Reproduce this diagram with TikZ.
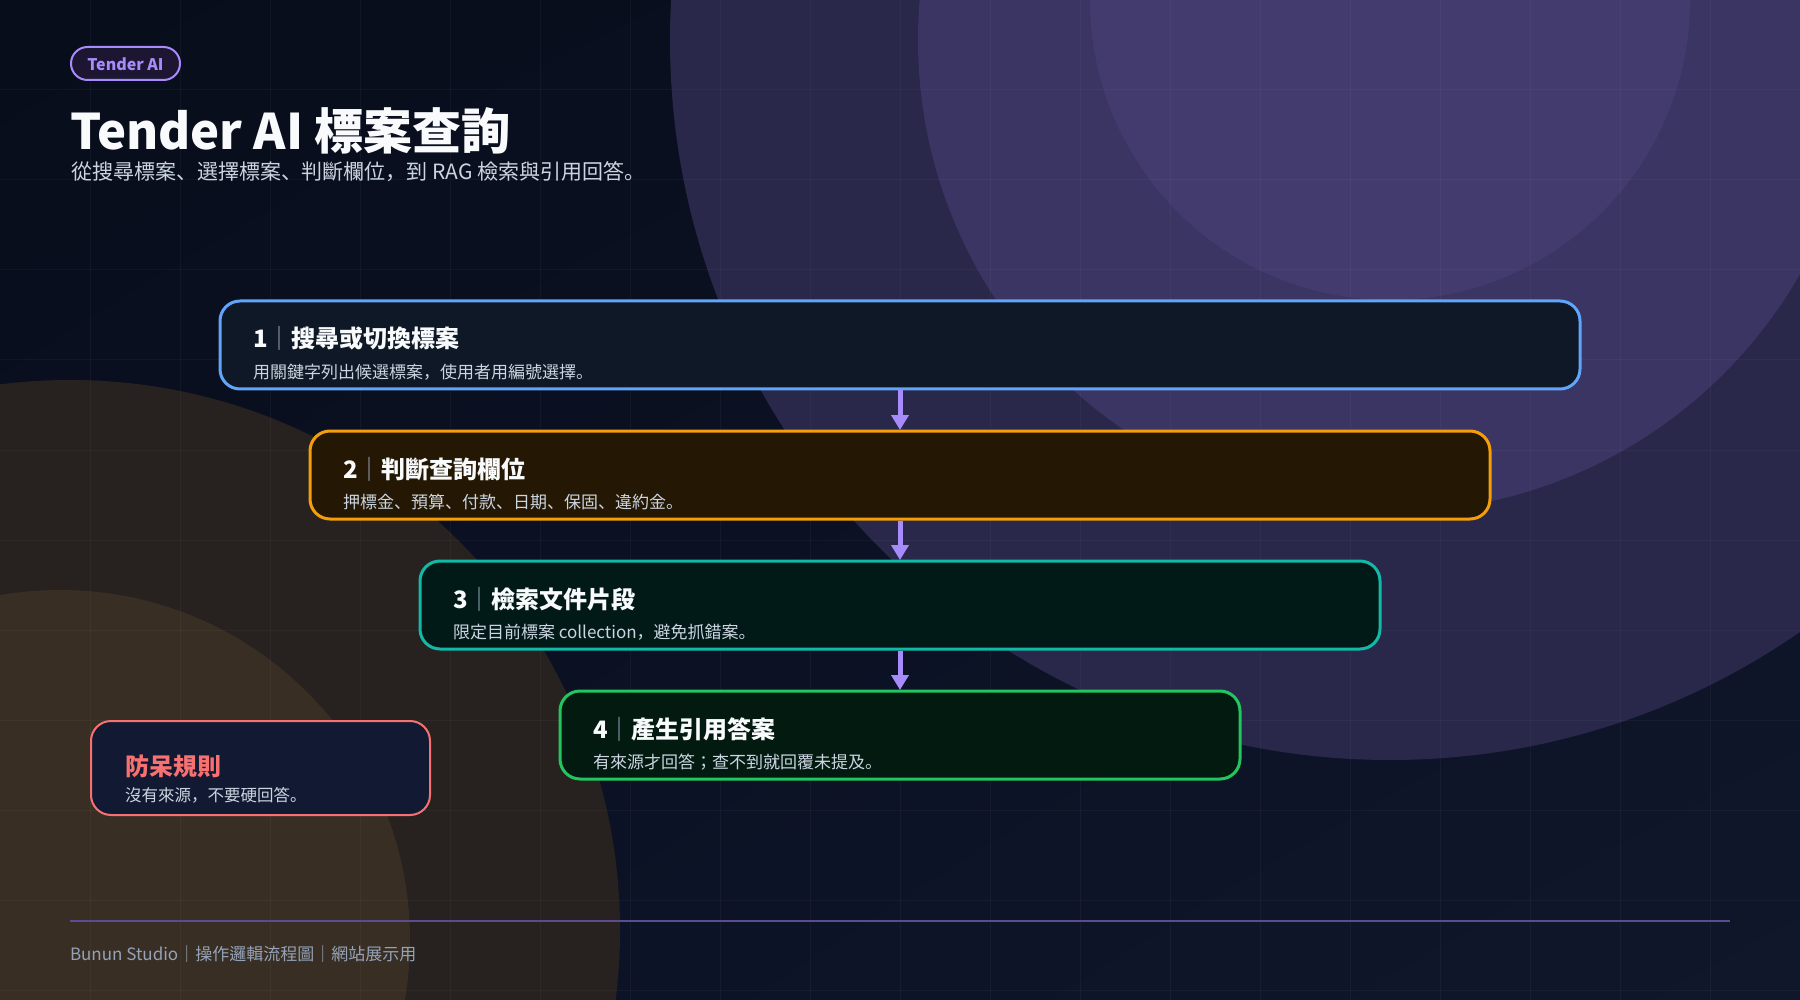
\documentclass[tikz,border=0pt]{standalone}
\usepackage{fontspec}
\setmainfont{Noto Sans CJK JP}
\usetikzlibrary{arrows.meta,shadings}
\definecolor{bgTL}{HTML}{080D1B}
\definecolor{bgTR}{HTML}{0B1122}
\definecolor{bgBL}{HTML}{0B1124}
\definecolor{bgBR}{HTML}{10172B}
\definecolor{purA}{HTML}{29274A}
\definecolor{purB}{HTML}{3A3563}
\definecolor{purC}{HTML}{433B6E}
\definecolor{brA}{HTML}{27221F}
\definecolor{brB}{HTML}{382E24}
\definecolor{violet}{HTML}{A78BFA}
\definecolor{pillfill}{HTML}{1C1632}
\definecolor{titlec}{HTML}{F8FAFC}
\definecolor{subc}{HTML}{CBD5E1}
\definecolor{footc}{HTML}{94A3B8}
\definecolor{sepc}{HTML}{94A3B8}
\definecolor{footline}{HTML}{5B4B91}
\definecolor{bAline}{HTML}{60A5FA}
\definecolor{bAfill}{HTML}{0E1826}
\definecolor{bBline}{HTML}{F59E0B}
\definecolor{bBfill}{HTML}{241804}
\definecolor{bCline}{HTML}{14B8A6}
\definecolor{bCfill}{HTML}{021A17}
\definecolor{bDline}{HTML}{22C55E}
\definecolor{bDfill}{HTML}{031A10}
\definecolor{ruleline}{HTML}{F87171}
\definecolor{rulefill}{HTML}{121A33}
\newcommand\myfs[1]{\fontsize{#1}{#1}\selectfont}
\tikzset{
  gridline/.style={white, opacity=0.035, line width=1pt},
  stepbox/.style={rectangle, rounded corners=20pt, line width=3pt, minimum height=88pt, inner sep=0pt, outer sep=0pt},
  txt/.style={inner sep=0pt, outer sep=0pt, anchor=base west},
  steptitle/.style={txt, text=titlec, font=\myfs{24}\bfseries},
  stepdesc/.style={txt, text=subc, font=\myfs{17}},
  flowarrow/.style={violet, line width=5pt, -{Triangle[width=17pt,length=15pt]}, shorten >=1pt, shorten <=1.5pt},
}
\newcommand\stepsep{{\mdseries\color{sepc}｜}}
\begin{document}
\begin{tikzpicture}[x=1pt,y=-1pt]
\useasboundingbox (0,0) rectangle (1800,1000);
\begin{scope}
  \clip (0,0) rectangle (1800,1000);
  \shade[upper left=bgTL, upper right=bgTR, lower left=bgBL, lower right=bgBR] (0,0) rectangle (1800,1000);
  \fill[purA] (1390,40) circle[radius=720];
  \fill[purB] (1390,40) circle[radius=472];
  \fill[purC] (1390,0) circle[radius=300];
  \fill[brA] (70,930) circle[radius=550];
  \fill[brB] (60,940) circle[radius=350];
  \foreach \g in {90,180,...,1710} \draw[gridline] (\g,0) -- (\g,1000);
  \foreach \g in {90,180,...,990} \draw[gridline] (0,\g) -- (1800,\g);
\end{scope}

% header
\node[rectangle, rounded corners=16.5pt, draw=violet, line width=2pt, fill=pillfill,
      minimum width=109pt, minimum height=33pt, inner sep=0pt] (pill) at (125.5,63.5) {};
\node[inner sep=0pt, anchor=base, text=violet, font=\myfs{16}\bfseries] (pilltext) at (125.5,70.5) {Tender AI};
\node[txt, text=titlec, font=\myfs{49}\bfseries] (title) at (70,149.5) {Tender AI 標案查詢};
\node[txt, text=subc, font=\myfs{21}] (subtitle) at (71,179.5) {從搜尋標案、選擇標案、判斷欄位，到 RAG 檢索與引用回答。};

% steps
\node[stepbox, draw=bAline, fill=bAfill, minimum width=1360pt] (b1) at (900,345) {};
\node[stepbox, draw=bBline, fill=bBfill, minimum width=1180pt] (b2) at (900,475) {};
\node[stepbox, draw=bCline, fill=bCfill, minimum width=960pt] (b3) at (900,605) {};
\node[stepbox, draw=bDline, fill=bDfill, minimum width=680pt] (b4) at (900,735) {};

\node[steptitle] (t1) at ([shift={(33,47)}]b1.north west) {1\stepsep 搜尋或切換標案};
\node[stepdesc] (d1) at ([shift={(33,77)}]b1.north west) {用關鍵字列出候選標案，使用者用編號選擇。};
\node[steptitle] (t2) at ([shift={(33,47)}]b2.north west) {2\stepsep 判斷查詢欄位};
\node[stepdesc] (d2) at ([shift={(33,77)}]b2.north west) {押標金、預算、付款、日期、保固、違約金。};
\node[steptitle] (t3) at ([shift={(33,47)}]b3.north west) {3\stepsep 檢索文件片段};
\node[stepdesc] (d3) at ([shift={(33,77)}]b3.north west) {限定目前標案 collection，避免抓錯案。};
\node[steptitle] (t4) at ([shift={(33,47)}]b4.north west) {4\stepsep 產生引用答案};
\node[stepdesc] (d4) at ([shift={(33,77)}]b4.north west) {有來源才回答；查不到就回覆未提及。};

\draw[flowarrow] (b1.south) -- (b2.north);
\draw[flowarrow] (b2.south) -- (b3.north);
\draw[flowarrow] (b3.south) -- (b4.north);

% rule box
\node[rectangle, rounded corners=20pt, draw=ruleline, line width=2pt, fill=rulefill,
      minimum width=339pt, minimum height=94pt, inner sep=0pt] (rule) at (260.5,768) {};
\node[txt, text=ruleline, font=\myfs{24}\bfseries] (ruletitle) at (125,775) {防呆規則};
\node[txt, text=subc, font=\myfs{16.5}] (ruledesc) at (125,801.5) {沒有來源，不要硬回答。};

% footer
\coordinate (fl) at (70,921);
\coordinate (fr) at (1730,921);
\draw[footline, line width=2pt] (fl) -- (fr);
\node[txt, text=footc, font=\myfs{17}] (foot) at (70,960) {Bunun Studio｜操作邏輯流程圖｜網站展示用};
\end{tikzpicture}
\end{document}
